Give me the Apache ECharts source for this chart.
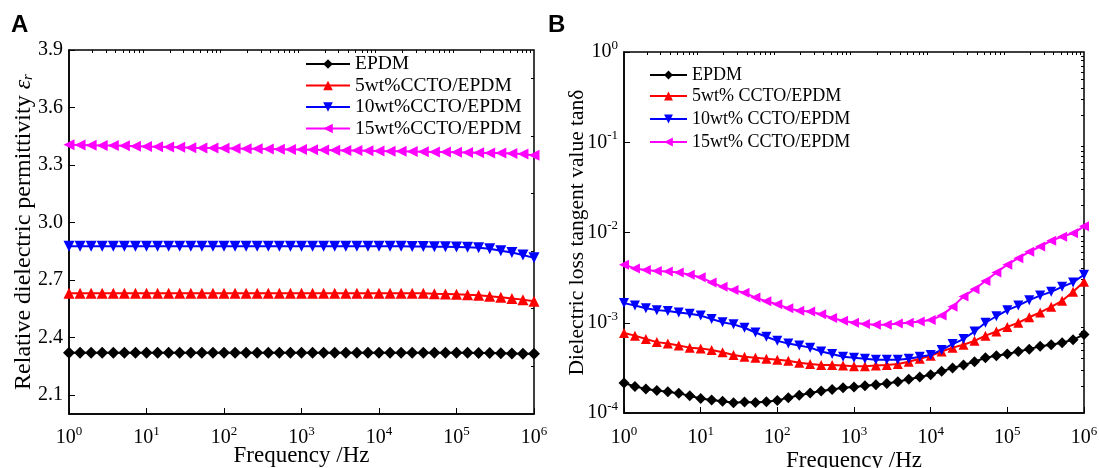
<!DOCTYPE html>
<html>
<head>
<meta charset="utf-8">
<title>CCTO/EPDM dielectric properties</title>
<script src="https://cdn.jsdelivr.net/npm/echarts@6/dist/echarts.min.js"></script>
<style>
  html, body { margin: 0; padding: 0; background: #fff; }
  #main { width: 1099px; height: 468px; }
</style>
</head>
<body>
<div id="main"></div>
<script>
// frequency points (Hz), 7 per decade
const freq = [1, 1.39, 1.93, 2.68, 3.73, 5.18, 7.2, 10, 13.9, 19.3, 26.8, 37.3, 51.8, 72,
  100, 139, 193, 268, 373, 518, 720, 1000, 1390, 1930, 2680, 3730, 5180, 7200,
  10000, 13900, 19300, 26800, 37300, 51800, 72000, 100000, 139000, 193000, 268000,
  373000, 518000, 720000, 1000000];

const namesA = ['EPDM', '5wt%CCTO/EPDM', '10wt%CCTO/EPDM', '15wt%CCTO/EPDM'];
const namesB = ['EPDM', '5wt% CCTO/EPDM', '10wt% CCTO/EPDM', '15wt% CCTO/EPDM'];

// panel A: relative permittivity
const epsEPDM = [2.32, 2.32, 2.32, 2.32, 2.32, 2.32, 2.32, 2.32, 2.32, 2.32, 2.32, 2.32, 2.32, 2.32,
  2.32, 2.32, 2.32, 2.32, 2.32, 2.32, 2.32, 2.32, 2.32, 2.32, 2.32, 2.32, 2.32, 2.32,
  2.32, 2.32, 2.32, 2.32, 2.32, 2.32, 2.32, 2.32, 2.32, 2.318, 2.318, 2.317, 2.316, 2.315, 2.315];
const eps5 = [2.63, 2.63, 2.63, 2.63, 2.63, 2.63, 2.63, 2.63, 2.63, 2.63, 2.63, 2.63, 2.63, 2.63,
  2.63, 2.63, 2.63, 2.63, 2.63, 2.63, 2.63, 2.63, 2.63, 2.63, 2.63, 2.63, 2.63, 2.63,
  2.63, 2.63, 2.63, 2.63, 2.63, 2.628, 2.627, 2.625, 2.622, 2.62, 2.615, 2.61, 2.603, 2.597, 2.588];
const eps10 = [2.875, 2.875, 2.875, 2.875, 2.875, 2.875, 2.875, 2.875, 2.875, 2.875, 2.875, 2.875, 2.875, 2.875,
  2.875, 2.875, 2.875, 2.875, 2.875, 2.875, 2.875, 2.875, 2.875, 2.875, 2.875, 2.875, 2.875, 2.875,
  2.875, 2.875, 2.875, 2.874, 2.874, 2.873, 2.873, 2.872, 2.871, 2.868, 2.862, 2.852, 2.843, 2.83, 2.815];
const eps15 = [3.405, 3.404, 3.403, 3.402, 3.401, 3.4, 3.398, 3.396, 3.395, 3.394, 3.392, 3.39,
  3.389, 3.388, 3.387, 3.386, 3.385, 3.384, 3.383, 3.382, 3.381, 3.38, 3.379, 3.378,
  3.377, 3.376, 3.375, 3.374, 3.373, 3.372, 3.371, 3.37, 3.369, 3.368, 3.367, 3.366,
  3.365, 3.364, 3.363, 3.362, 3.36, 3.357, 3.35];

// panel B: loss tangent
const tanEPDM = [0.000215, 0.000197, 0.000185, 0.000178, 0.000172, 0.000165, 0.000155, 0.000145,
  0.000139, 0.000135, 0.00013, 0.000132, 0.000131, 0.000133, 0.000138, 0.000148, 0.000157,
  0.000167, 0.000175, 0.000182, 0.00019, 0.000194, 0.0002, 0.000206, 0.000212, 0.000222,
  0.000236, 0.00025, 0.000265, 0.00029, 0.000315, 0.00034, 0.00037, 0.00041, 0.00043,
  0.00045, 0.00048, 0.00051, 0.00055, 0.00057, 0.0006, 0.00065, 0.00074];
const tan5 = [0.00077, 0.00072, 0.00066, 0.00061, 0.00059, 0.00056, 0.00053, 0.00052, 0.0005,
  0.00047, 0.00044, 0.00042, 0.00041, 0.0004, 0.00039, 0.00038, 0.00036, 0.00035, 0.00034,
  0.00034, 0.000335, 0.00033, 0.00033, 0.000335, 0.00034, 0.00035, 0.00037, 0.0004, 0.00043,
  0.00048, 0.00053, 0.00057, 0.00063, 0.00072, 0.0008, 0.0009, 0.001, 0.00115, 0.0013,
  0.0015, 0.00175, 0.0022, 0.00285];
const tan10 = [0.00165, 0.00155, 0.00145, 0.00138, 0.00135, 0.0013, 0.00126, 0.0012, 0.0011,
  0.00101, 0.00096, 0.00088, 0.00078, 0.0007, 0.00063, 0.00059, 0.00056, 0.00053, 0.00048,
  0.00045, 0.00042, 0.00041, 0.0004, 0.00039, 0.00039, 0.00039, 0.0004, 0.00042, 0.00044,
  0.0005, 0.00058, 0.00066, 0.0008, 0.001, 0.00118, 0.00138, 0.00155, 0.00178, 0.002,
  0.0022, 0.0025, 0.0028, 0.0034];
const tan15 = [0.0044, 0.004, 0.00385, 0.00375, 0.0037, 0.0036, 0.0034, 0.0032, 0.0028, 0.0025,
  0.0023, 0.00215, 0.0019, 0.00173, 0.0016, 0.00145, 0.00136, 0.00133, 0.00124, 0.00113,
  0.00105, 0.001, 0.00097, 0.00095, 0.00095, 0.00098, 0.001, 0.00103, 0.00107, 0.0012,
  0.0015, 0.00195, 0.00235, 0.0029, 0.0036, 0.0044, 0.0052, 0.0061, 0.007, 0.0081, 0.009,
  0.0098, 0.0117];

// axis tick values
const epsLabels = [2.1, 2.4, 2.7, 3.0, 3.3, 3.6, 3.9];
const epsMinor = [2.25, 2.55, 2.85, 3.15, 3.45, 3.75];
const freqMinor = [2, 3, 4, 5, 6, 7, 8, 9, 20, 30, 40, 50, 60, 70, 80, 90,
  200, 300, 400, 500, 600, 700, 800, 900, 2000, 3000, 4000, 5000, 6000, 7000, 8000, 9000,
  20000, 30000, 40000, 50000, 60000, 70000, 80000, 90000,
  200000, 300000, 400000, 500000, 600000, 700000, 800000, 900000];
const tanMinor = [0.0002, 0.0003, 0.0004, 0.0005, 0.0006, 0.0007, 0.0008, 0.0009,
  0.002, 0.003, 0.004, 0.005, 0.006, 0.007, 0.008, 0.009,
  0.02, 0.03, 0.04, 0.05, 0.06, 0.07, 0.08, 0.09,
  0.2, 0.3, 0.4, 0.5, 0.6, 0.7, 0.8, 0.9];

const colors = ['#000000', '#ff0000', '#0000ff', '#ff00ff'];
const symbols = ['diamond', 'triangle', 'triangle', 'triangle'];
const rotates = [0, 0, 180, 90];
const serif = '"Liberation Serif", "Times New Roman", serif';

function pairs(vals) {
  return freq.map((f, i) => [f, vals[i]]);
}

// 10 with a raised exponent
function powLabel(v) {
  const e = Math.round(Math.log10(v));
  return '{b|10}{s|' + e + '}';
}

const powRich = {
  b: { fontFamily: serif, fontSize: 20, color: '#000', lineHeight: 20 },
  s: { fontFamily: serif, fontSize: 13, color: '#000', lineHeight: 13, padding: [0, 0, 13, 0] }
};

function logX(grid, minor, margin, nameGap) {
  return {
    type: 'log', logBase: 10, gridIndex: grid, min: 1, max: 1e6,
    name: minor ? '' : 'Frequency /Hz',
    nameLocation: 'middle', nameGap: nameGap, nameMoveOverlap: false,
    nameTextStyle: { fontFamily: serif, fontSize: 23, color: '#000' },
    axisLine: { show: !minor, lineStyle: { color: '#000', width: 1.5 } },
    axisTick: minor
      ? { show: true, inside: true, length: 3, customValues: freqMinor, lineStyle: { color: '#000' } }
      : { show: true, inside: true, length: 6, lineStyle: { color: '#000' } },
    axisLabel: {
      show: !minor, margin: margin, formatter: powLabel, rich: powRich
    },
    splitLine: { show: false }
  };
}

const seriesA = [epsEPDM, eps5, eps10, eps15].map((vals, i) => ({
  name: namesA[i], type: 'line', xAxisIndex: 0, yAxisIndex: 0,
  data: pairs(vals), symbol: symbols[i], symbolRotate: rotates[i],
  symbolSize: i === 0 ? 12 : 11, color: colors[i],
  lineStyle: { width: 2 }, clip: false
}));
const seriesB = [tanEPDM, tan5, tan10, tan15].map((vals, i) => ({
  name: namesB[i], type: 'line', xAxisIndex: 2, yAxisIndex: 2,
  data: pairs(vals), symbol: symbols[i], symbolRotate: rotates[i],
  symbolSize: i === 0 ? 11 : 10, color: colors[i],
  lineStyle: { width: 2 }, clip: false
}));

var myChart = echarts.init(document.getElementById('main'));

const option = {
  animation: false,
  backgroundColor: '#fff',
  textStyle: { fontFamily: serif },
  graphic: [
    { type: 'text', left: 11, top: 13, style: { text: 'A', font: 'bold 24px "Liberation Sans", Arial, sans-serif', fill: '#000' } },
    { type: 'text', left: 548, top: 13, style: { text: 'B', font: 'bold 24px "Liberation Sans", Arial, sans-serif', fill: '#000' } }
  ],
  grid: [
    { left: 69, top: 50, width: 465, height: 364, outerBoundsMode: 'none', show: true, borderColor: '#000', borderWidth: 1.5 },
    { left: 624, top: 52, width: 460, height: 361, outerBoundsMode: 'none', show: true, borderColor: '#000', borderWidth: 1.5 }
  ],
  legend: [
    {
      data: namesA, orient: 'vertical', left: 300, top: 49,
      itemWidth: 44, itemHeight: 12, itemGap: 1.5,
      textStyle: { fontFamily: serif, fontSize: 19.5, color: '#000', lineHeight: 18.5 }
    },
    {
      data: namesB.slice(1), orient: 'vertical', left: 644, top: 82,
      itemWidth: 37, itemHeight: 11, itemGap: 5,
      textStyle: { fontFamily: serif, fontSize: 18, color: '#000', lineHeight: 17 }
    },
    {
      data: ['EPDM'], orient: 'vertical', left: 644, top: 61,
      itemWidth: 37, itemHeight: 11,
      textStyle: { fontFamily: serif, fontSize: 18, color: '#000', lineHeight: 17 }
    }
  ],
  xAxis: [logX(0, false, 14, 30), logX(0, true, 14, 30), logX(1, false, 15, 36), logX(1, true, 15, 36)],
  yAxis: [
    {
      type: 'value', gridIndex: 0, min: 2.0, max: 3.9,
      name: 'Relative dielectric permittivity {e|ε}{r|r}',
      nameLocation: 'middle', nameGap: 33, nameMoveOverlap: false,
      nameTextStyle: {
        fontFamily: serif, fontSize: 24, color: '#000',
        rich: {
          e: { fontFamily: serif, fontSize: 24, fontStyle: 'italic', color: '#000' },
          r: { fontFamily: serif, fontSize: 15, fontStyle: 'italic', color: '#000', verticalAlign: 'bottom' }
        }
      },
      axisLine: { show: true, lineStyle: { color: '#000', width: 1.5 } },
      axisTick: { show: true, inside: true, length: 6, customValues: epsLabels, lineStyle: { color: '#000' } },
      axisLabel: {
        customValues: epsLabels, margin: 6, fontFamily: serif, fontSize: 20, color: '#000',
        formatter: v => v.toFixed(1)
      },
      splitLine: { show: false }
    },
    {
      type: 'value', gridIndex: 0, min: 2.0, max: 3.9,
      axisLine: { show: false },
      axisTick: { show: true, inside: true, length: 3, customValues: epsMinor, lineStyle: { color: '#000' } },
      axisLabel: { show: false },
      splitLine: { show: false }
    },
    {
      type: 'log', logBase: 10, gridIndex: 1, min: 1e-4, max: 1,
      name: 'Dielectric loss tangent value tanδ',
      nameLocation: 'middle', nameGap: 36, nameMoveOverlap: false,
      nameTextStyle: { fontFamily: serif, fontSize: 21.5, color: '#000' },
      axisLine: { show: true, lineStyle: { color: '#000', width: 1.5 } },
      axisTick: { show: true, inside: true, length: 6, lineStyle: { color: '#000' } },
      axisLabel: { margin: 6, formatter: powLabel, rich: powRich },
      splitLine: { show: false }
    },
    {
      type: 'log', logBase: 10, gridIndex: 1, min: 1e-4, max: 1,
      axisLine: { show: false },
      axisTick: { show: true, inside: true, length: 3, customValues: tanMinor, lineStyle: { color: '#000' } },
      axisLabel: { show: false },
      splitLine: { show: false }
    }
  ],
  series: seriesA.concat(seriesB)
};

myChart.setOption(option);
</script>
</body>
</html>
